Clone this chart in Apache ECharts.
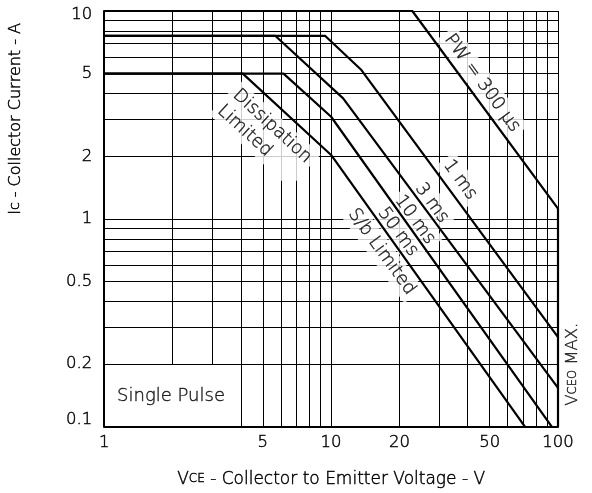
<!DOCTYPE html>
<html>
<head>
<meta charset="utf-8">
<script src="https://cdn.jsdelivr.net/npm/echarts@6/dist/echarts.min.js"></script>
<style>
  html, body { margin: 0; padding: 0; background: #fff; }
  #chart { width: 592px; height: 493px; }
</style>
</head>
<body>
<div id="chart"></div>
<script>
// axis labels
var xTicks = [1, 5, 10, 20, 50, 100];
var yTicks = [0.1, 0.2, 0.5, 1, 2, 5, 10];
// log grid lines
var xGrid = [2, 3, 4, 5, 6, 7, 8, 9, 10, 20, 30, 40, 50, 60, 70, 80, 90, 100];
var xGridCut = [2, 3]; // these stop at 0.2 A (single pulse box)
var yGrid = [0.2, 0.3, 0.4, 0.5, 0.6, 0.7, 0.8, 0.9, 1, 2, 3, 4, 5, 6, 7, 8, 9, 10];

// SOA curves, VCE (V) / IC (A)
var pw300V = [1, 22.8, 100, 100];
var pw300I = [10, 10, 1.12, 0.1];
var ms1V = [1, 9.4, 13.6, 100];
var ms1I = [7.6, 7.6, 5.2, 0.27];
var ms3V = [1, 5.67, 11.3, 100];
var ms3I = [7.6, 7.6, 3.8, 0.154];
var ms10V = [1, 6.17, 10, 94];
var ms10I = [5, 5, 3.1, 0.1];
var ms50V = [1, 4.08, 10, 71.6];
var ms50I = [5, 5, 2.03, 0.1];

// curve annotations
var noteText = ['PW = 300 µs', '1 ms', '3 ms', '10 ms', '50 ms', 'S/b Limited', 'Dissipation\nLimited      ', 'Single Pulse'];
var noteV = [46.3, 37, 27.8, 23.4, 19.7, 16.7, 5.1, 1.97];
var noteI = [4.5, 1.54, 1.19, 0.99, 0.866, 0.694, 2.55, 0.14];
var noteRot = [-54, -54, -54, -54, -54, -54, -42.5, 0];

var font = 'DejaVu Sans';
var fw = 200;
var ink = '#000';
var thick = 0.45; // text stroke to thicken the extra-light face

function zip(xs, ys) {
  return xs.map(function (x, i) { return [x, ys[i]]; });
}

function txt(size, extra) {
  var s = {
    fontFamily: font, fontSize: size, fontWeight: fw, color: ink,
    textBorderColor: ink, textBorderWidth: thick
  };
  for (var k in extra) s[k] = extra[k];
  return s;
}

var gridLines = [];
xGrid.forEach(function (v) {
  if (xGridCut.indexOf(v) >= 0) {
    gridLines.push([{ coord: [v, 0.2] }, { coord: [v, 10] }]);
  } else {
    gridLines.push({ xAxis: v });
  }
});
yGrid.forEach(function (v) {
  gridLines.push({ yAxis: v });
});

var notes = noteText.map(function (t, i) {
  return {
    value: [noteV[i], noteI[i]],
    label: { formatter: t, rotate: noteRot[i] }
  };
});
// VCEO MAX. sits just outside the right edge
notes.push({
  value: [116, 0.2],
  label: {
    formatter: '{v|V}{s|CEO}{v| MAX.}',
    rotate: 90,
    backgroundColor: 'transparent'
  }
});

function curve(v, i) {
  return {
    type: 'line',
    data: zip(v, i),
    symbol: 'none',
    z: 20,
    silent: true,
    lineStyle: { color: '#000', width: 2.2 }
  };
}

var titleRich = { v: txt(17), s: txt(12) };

var chart = echarts.init(document.getElementById('chart'));
chart.setOption({
  animation: false,
  backgroundColor: '#fff',
  textStyle: { fontFamily: font },
  grid: { left: 104, right: 34, top: 11, bottom: 66 },
  xAxis: {
    type: 'log',
    logBase: 10,
    min: 1,
    max: 100,
    name: '{v|V}{s|CE}{v| - Collector to Emitter Voltage - V}',
    nameLocation: 'middle',
    nameGap: 44,
    nameTextStyle: { rich: titleRich },
    axisLine: { lineStyle: { color: '#000', width: 2 } },
    axisTick: { show: false },
    splitLine: { show: false },
    minorSplitLine: { show: false },
    axisLabel: txt(16.5, {
      customValues: xTicks,
      margin: 7,
      formatter: function (v) { return String(v); }
    })
  },
  yAxis: {
    type: 'log',
    logBase: 10,
    min: 0.1,
    max: 10,
    name: '{v|I}{s|C}{v| - Collector Current - A}',
    nameLocation: 'middle',
    nameGap: 80,
    nameTextStyle: {
      padding: [0, 0, 0, 200],
      rich: { v: txt(16), s: txt(11) }
    },
    axisLine: { lineStyle: { color: '#000', width: 2 } },
    axisTick: { show: false },
    splitLine: { show: false },
    minorSplitLine: { show: false },
    axisLabel: txt(16.5, {
      customValues: yTicks,
      margin: 12,
      formatter: function (v) {
        if (v >= 10) return '{lo|' + v + '}';
        if (v <= 0.1) return '{hi|' + v + '}';
        return String(v);
      },
      rich: {
        lo: txt(16.5, { padding: [8, 0, 0, 0] }),
        hi: txt(16.5, { padding: [0, 0, 14, 0] })
      }
    })
  },
  series: [
    {
      type: 'line',
      data: [],
      silent: true,
      markLine: {
        silent: true,
        symbol: ['none', 'none'],
        label: { show: false },
        emphasis: { disabled: true },
        lineStyle: { color: '#000', width: 1, type: 'solid' },
        data: gridLines
      }
    },
    {
      type: 'scatter',
      z: 10,
      silent: true,
      clip: false,
      symbolSize: 1,
      itemStyle: { color: 'rgba(0,0,0,0)' },
      label: txt(18, {
        show: true,
        position: 'inside',
        lineHeight: 22,
        backgroundColor: '#fff',
        padding: [1, 4],
        rich: { v: txt(16.5), s: txt(11.5) }
      }),
      data: notes
    },
    curve(pw300V, pw300I),
    curve(ms1V, ms1I),
    curve(ms3V, ms3I),
    curve(ms10V, ms10I),
    curve(ms50V, ms50I)
  ]
});
</script>
</body>
</html>
